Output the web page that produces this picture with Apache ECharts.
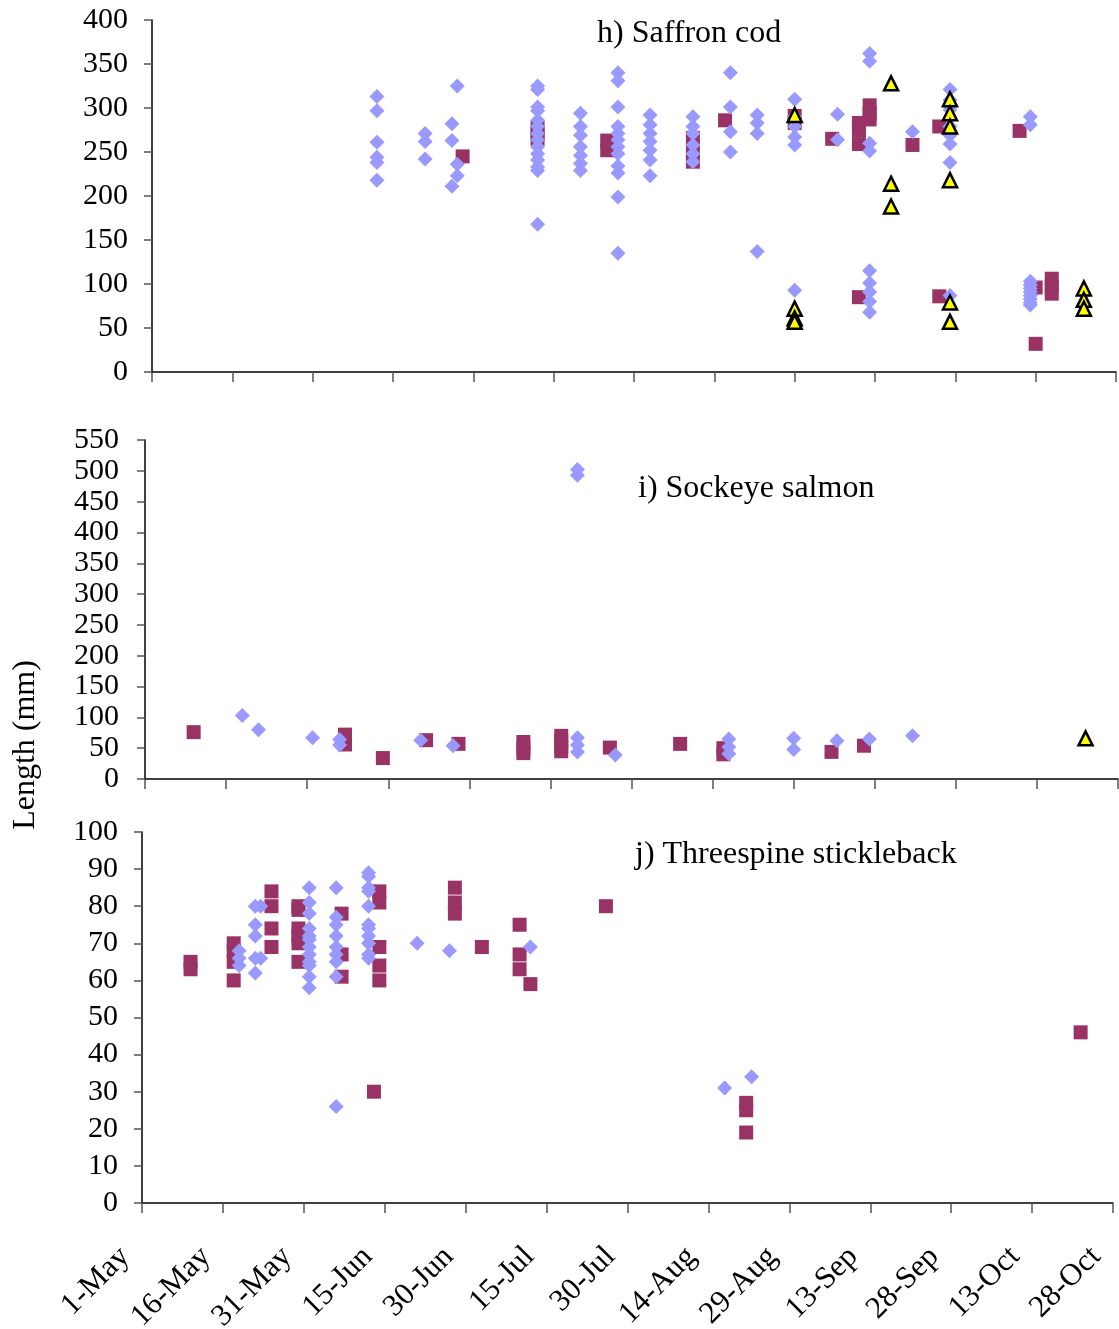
<!DOCTYPE html>
<html>
<head>
<meta charset="utf-8">
<script src="https://cdn.jsdelivr.net/npm/echarts@6/dist/echarts.min.js"></script>
<style>
  html, body { margin: 0; padding: 0; background: #fff; }
  #chart { width: 1119px; height: 1329px; }
</style>
</head>
<body>
<div id="chart"></div>
<script>
// Date ticks every 15 days starting 1-May (x values are days since 1-May)
const dateTicks = ['1-May', '16-May', '31-May', '15-Jun', '30-Jun', '15-Jul', '30-Jul',
                   '14-Aug', '29-Aug', '13-Sep', '28-Sep', '13-Oct', '28-Oct'];

// Each entry: [day since 1-May, [lengths in mm]]
// h) Saffron cod
const codDiamonds = [
  [42, [313, 297, 261, 244, 238, 218]],
  [51, [271, 262, 242]],
  [56, [282, 263, 211]],
  [57, [325, 236, 223]],
  [72, [325, 321, 301, 297, 286, 279, 271, 264, 256, 248, 241, 233, 229, 168]],
  [80, [294, 279, 269, 256, 246, 237, 229]],
  [87, [340, 331, 301, 279, 271, 264, 256, 248, 234, 226, 199, 135]],
  [93, [292, 281, 271, 262, 252, 241, 223]],
  [101, [290, 279, 271, 258, 248, 239]],
  [108, [340, 301, 273, 250]],
  [113, [292, 283, 271, 137]],
  [120, [310, 290, 279, 267, 258, 93]],
  [128, [293, 264]],
  [134, [362, 353, 260, 251, 115, 101, 91, 80, 68]],
  [142, [273]],
  [149, [321, 309, 298, 279, 269, 259, 238, 87]],
  [164, [290, 281, 103, 99, 95, 91, 87, 83, 79, 76]]
];
const codSquares = [
  [58, [245]],
  [72, [278, 271, 265]],
  [85, [263, 252]],
  [101, [266, 252, 239]],
  [107, [286]],
  [120, [291, 283]],
  [127, [265]],
  [132, [283, 275, 259, 85]],
  [134, [303, 294, 287]],
  [142, [258]],
  [147, [279, 86]],
  [162, [274]],
  [165, [96, 32]],
  [168, [106, 97, 89]]
];
const codTriangles = [
  [120, [292, 72, 61, 57]],
  [138, [328, 214, 188]],
  [149, [310, 294, 279, 218, 79, 57]],
  [174, [95, 82, 72]]
];

// i) Sockeye salmon
const sockeyeDiamonds = [
  [18, [103]],
  [21, [80]],
  [31, [67]],
  [36, [64, 55]],
  [51, [63]],
  [57, [54]],
  [80, [502, 493, 67, 55, 44]],
  [87, [39]],
  [108, [65, 52, 41]],
  [120, [66, 48]],
  [128, [62]],
  [134, [65]],
  [142, [70]]
];
const sockeyeSquares = [
  [9, [76]],
  [37, [72, 56]],
  [44, [34]],
  [52, [63]],
  [58, [57]],
  [70, [60, 50, 42]],
  [77, [70, 62, 52, 45]],
  [86, [51]],
  [99, [57]],
  [107, [50, 40]],
  [127, [44]],
  [133, [54]]
];
const sockeyeTriangles = [
  [174, [66]]
];

// j) Threespine stickleback
const sticklebackDiamonds = [
  [18, [68, 66, 64]],
  [21, [80, 75, 72, 66, 62]],
  [22, [80, 66]],
  [31, [85, 81, 78, 74, 72, 71, 69, 67, 65, 64, 61, 58]],
  [36, [85, 77, 75, 72, 69, 67, 65, 61, 26]],
  [42, [89, 88, 85, 84, 80, 75, 74, 72, 70, 67, 66]],
  [51, [70]],
  [57, [68]],
  [72, [69]],
  [108, [31]],
  [113, [34]]
];
const sticklebackSquares = [
  [9, [65, 63]],
  [17, [70, 68, 65, 60]],
  [24, [84, 80, 74, 69]],
  [29, [80, 79, 74, 72, 70, 65]],
  [37, [78, 67, 61]],
  [43, [30]],
  [44, [84, 81, 69, 64, 60]],
  [58, [85, 81, 78]],
  [63, [69]],
  [70, [75, 67, 63]],
  [72, [59]],
  [86, [80]],
  [112, [27, 25, 19]],
  [174, [46]]
];

const FONT = '"Liberation Serif", "Times New Roman", serif';
const DIAMOND = '#9999FF';
const SQUARE = '#993366';
const TRIANGLE = '#FFFF00';

function points(groups) {
  const out = [];
  groups.forEach(([day, lengths]) => lengths.forEach(v => out.push([day, v])));
  return out;
}

// Fixed plot boxes; labels may sit outside them without shrinking the plots
const grids = [
  { left: 152, top: 20, width: 964, height: 352, containLabel: false, outerBoundsMode: 'none' },
  { left: 145, top: 440, width: 973, height: 339, containLabel: false, outerBoundsMode: 'none' },
  { left: 142, top: 832, width: 971, height: 371, containLabel: false, outerBoundsMode: 'none' }
];
const yRanges = [
  { max: 400, interval: 50, margin: 24 },
  { max: 550, interval: 50, margin: 26 },
  { max: 100, interval: 10, margin: 24 }
];

const xAxes = grids.map((g, i) => ({
  type: 'value',
  gridIndex: i,
  min: 0,
  max: 180,
  interval: 15,
  axisLine: { lineStyle: { color: '#000', width: 1.5 } },
  axisTick: { show: true, inside: false, length: 10, lineStyle: { color: '#555', width: 1.5 } },
  splitLine: { show: false },
  axisLabel: i === 2 ? {
    show: true,
    rotate: 45,
    margin: 32,
    padding: [0, 24, 0, 0],
    fontFamily: FONT,
    fontSize: 31,
    color: '#000',
    formatter: v => dateTicks[Math.round(v / 15)]
  } : { show: false }
}));

const yAxes = yRanges.map((r, i) => ({
  type: 'value',
  gridIndex: i,
  min: 0,
  max: r.max,
  interval: r.interval,
  axisLine: { show: true, lineStyle: { color: '#000', width: 1.5 } },
  axisTick: { show: true, inside: false, length: 8, lineStyle: { color: '#555', width: 1.5 } },
  splitLine: { show: false },
  axisLabel: { margin: r.margin, fontFamily: FONT, fontSize: 30, color: '#000' }
}));

function squareSeries(data, i) {
  return {
    type: 'scatter', xAxisIndex: i, yAxisIndex: i,
    symbol: 'rect', symbolSize: 14,
    itemStyle: { color: SQUARE, opacity: 1 },
    data: points(data), z: 2
  };
}
function diamondSeries(data, i) {
  return {
    type: 'scatter', xAxisIndex: i, yAxisIndex: i,
    symbol: 'diamond', symbolSize: 15,
    itemStyle: { color: DIAMOND, opacity: 1 },
    data: points(data), z: 3
  };
}
function triangleSeries(data, i) {
  return {
    type: 'scatter', xAxisIndex: i, yAxisIndex: i,
    symbol: 'triangle', symbolSize: 14,
    itemStyle: { color: TRIANGLE, borderColor: '#000', borderWidth: 2.5, opacity: 1 },
    data: points(data), z: 4
  };
}

const series = [
  squareSeries(codSquares, 0), diamondSeries(codDiamonds, 0), triangleSeries(codTriangles, 0),
  squareSeries(sockeyeSquares, 1), diamondSeries(sockeyeDiamonds, 1), triangleSeries(sockeyeTriangles, 1),
  squareSeries(sticklebackSquares, 2), diamondSeries(sticklebackDiamonds, 2)
];

function label(text, x, y) {
  return {
    type: 'text', x: x, y: y,
    style: { text: text, font: '32px ' + FONT, fill: '#000', align: 'left', verticalAlign: 'middle' }
  };
}

const chart = echarts.init(document.getElementById('chart'), null, { renderer: 'canvas' });
chart.setOption({
  backgroundColor: '#fff',
  animation: false,
  grid: grids,
  xAxis: xAxes,
  yAxis: yAxes,
  series: series,
  graphic: [
    label('h) Saffron cod', 597, 34),
    label('i) Sockeye salmon', 638, 489),
    label('j) Threespine stickleback', 635, 855),
    {
      type: 'text', x: 26, y: 745, rotation: Math.PI / 2,
      style: { text: 'Length (mm)', font: '32px ' + FONT, fill: '#000', align: 'center', verticalAlign: 'middle' }
    }
  ]
});
</script>
</body>
</html>
